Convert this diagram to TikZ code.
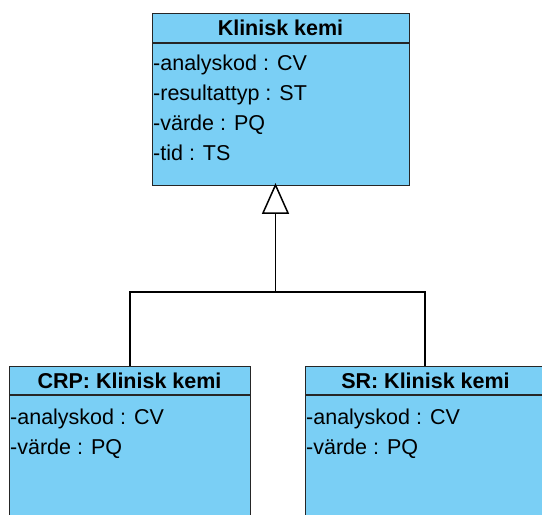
\documentclass[tikz,border=0pt]{standalone}
\usepackage{fontspec}
\setmainfont{Liberation Sans}
\definecolor{umlblue}{RGB}{122,207,245}
\begin{document}
\begin{tikzpicture}[x=1pt,y=-1pt,
  classbox/.style={draw=black!85,line width=1.4pt,fill=umlblue,rectangle,inner sep=0pt,anchor=north west},
  sep/.style={draw=black!85,line width=1.4pt},
  attr/.style={anchor=base west,inner sep=0pt,font=\fontsize{21.5}{24}\selectfont},
  head/.style={anchor=base,inner sep=0pt,font=\fontsize{21.5}{24}\selectfont\bfseries},
  conn/.style={draw=black,line width=1.5pt}]
\useasboundingbox (0,0) rectangle (542,515);
\clip (0,0) rectangle (542,515);
\fill[white] (0,0) rectangle (542,515);
% top class
\node[classbox,minimum width=257pt,minimum height=172pt] (top) at (152,13) {};
\draw[sep] (152,43) -- (409,43);
\node[head] (topname) at (280.5,35) {Klinisk kemi};
\node[attr] (t1) at (153,70) {-analyskod : CV};
\node[attr] (t2) at (153,100) {-resultattyp : ST};
\node[attr] (t3) at (153,130) {-värde : PQ};
\node[attr] (t4) at (153,160) {-tid : TS};
% bottom classes
\node[classbox,minimum width=241pt,minimum height=170pt] (crp) at (9,366) {};
\draw[sep] (9,395) -- (250,395);
\node[head] (crpname) at (129.5,388) {CRP: Klinisk kemi};
\node[attr] (c1) at (10,424) {-analyskod : CV};
\node[attr] (c2) at (10,454) {-värde : PQ};
\node[classbox,minimum width=241pt,minimum height=170pt] (sr) at (305,366) {};
\draw[sep] (305,395) -- (546,395);
\node[head] (srname) at (425.5,388) {SR: Klinisk kemi};
\node[attr] (s1) at (306,424) {-analyskod : CV};
\node[attr] (s2) at (306,454) {-värde : PQ};
% generalisation connectors
\coordinate (apex) at (275.5,185);
\coordinate (base) at (275.5,213);
\coordinate (junction) at (275.5,292);
\draw[conn,fill=white,line join=miter] (apex) -- (263,213) -- (288,213) -- cycle;
\draw[conn] (base) -- (junction);
\draw[conn] (junction) -- (130,292) -- (130,366);
\draw[conn] (junction) -- (425,292) -- (425,366);
\end{tikzpicture}
\end{document}
